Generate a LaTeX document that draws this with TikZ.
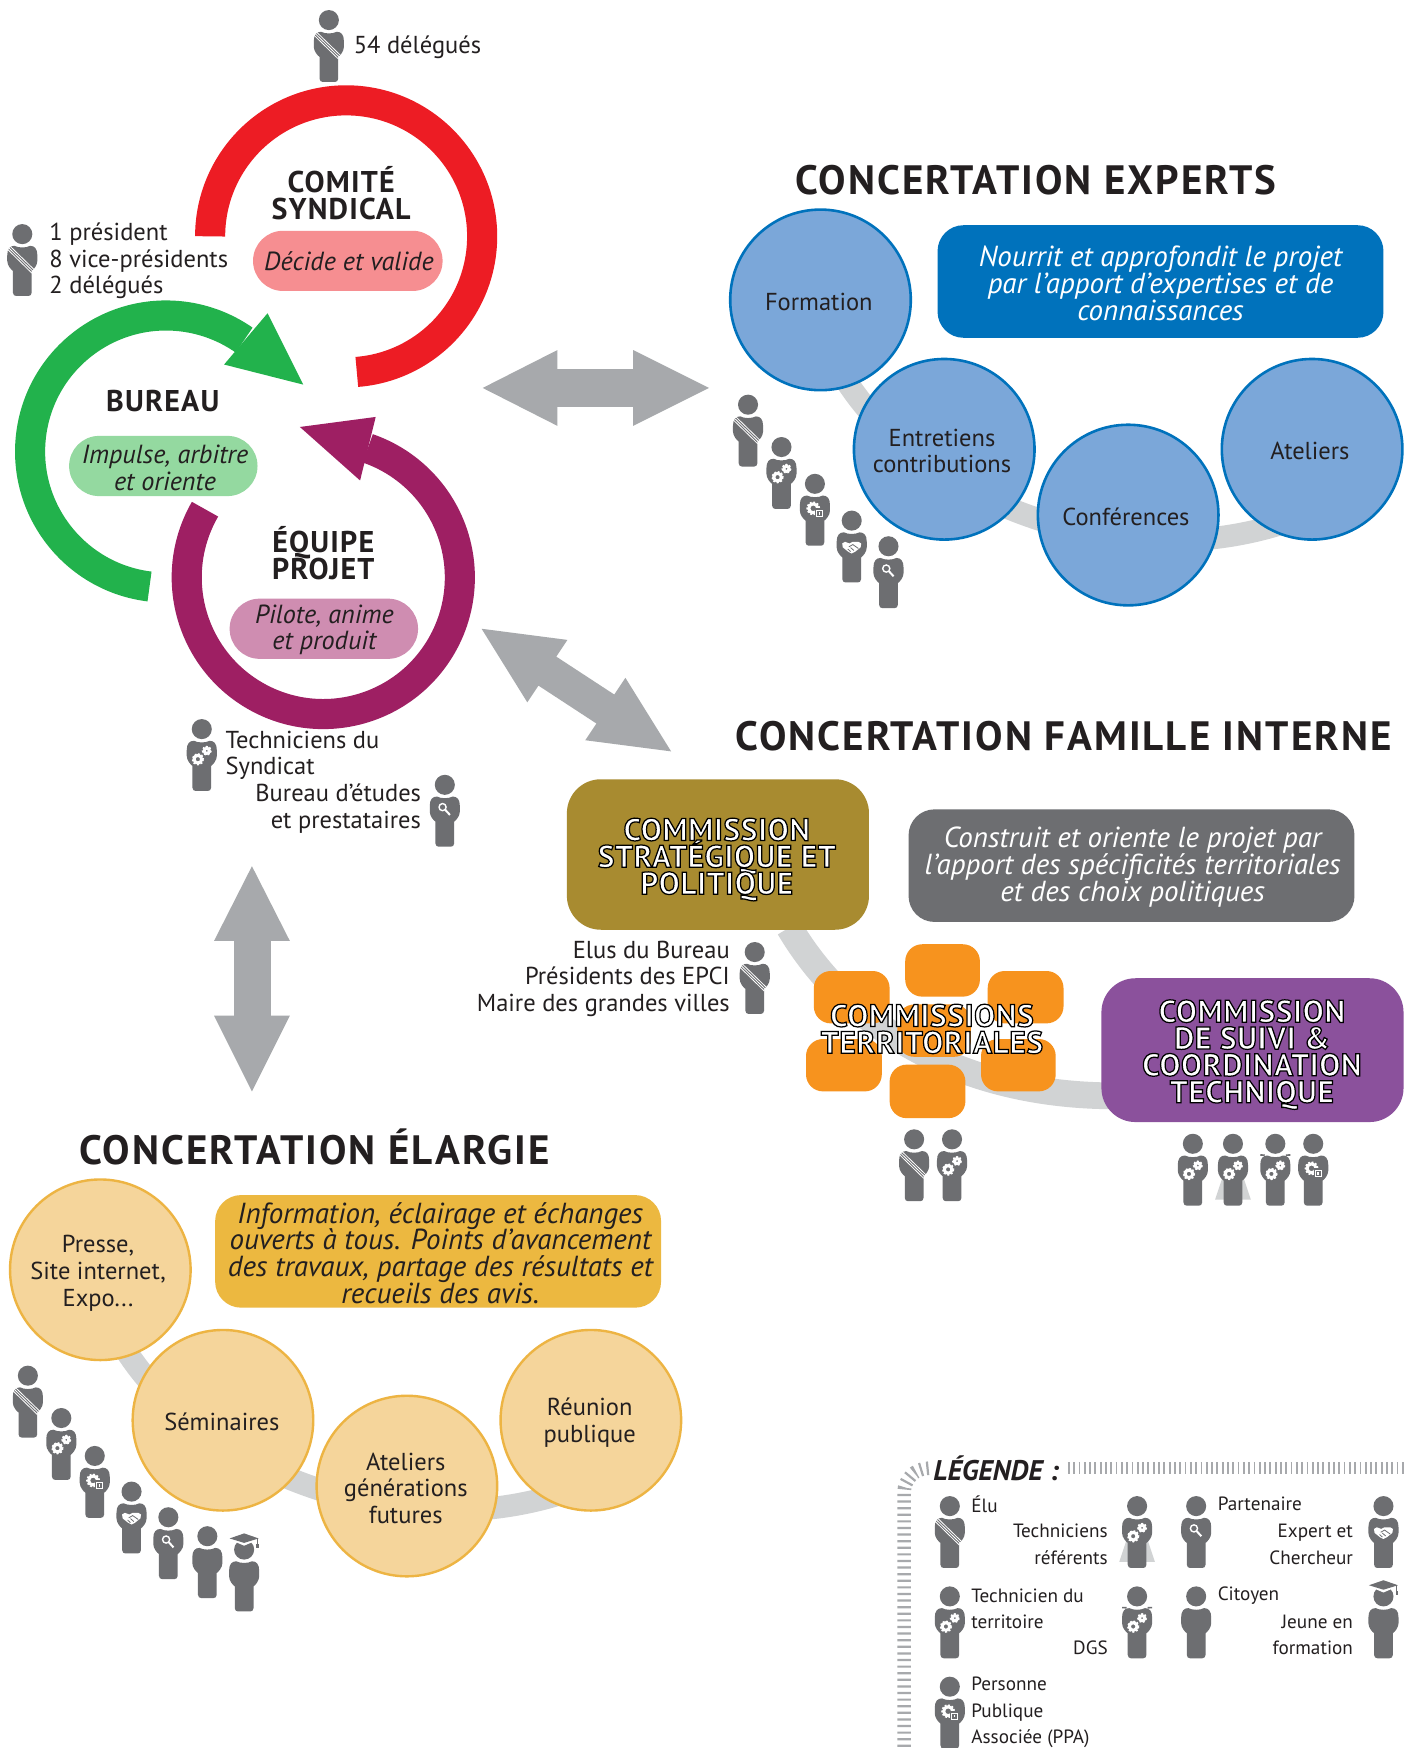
\documentclass[tikz,border=0pt]{standalone}
\usepackage{fontspec}
\setmainfont{PT Sans}
\usetikzlibrary{calc}
\definecolor{ink}{HTML}{231F20}
\definecolor{gris}{HTML}{6D6E71}
\definecolor{flech}{HTML}{A7A9AC}
\definecolor{bande}{HTML}{D1D3D4}
\definecolor{rouge}{HTML}{ED1C24}
\definecolor{vert}{HTML}{22B24C}
\definecolor{pourpre}{HTML}{9E1F63}
\definecolor{bleuC}{HTML}{7BA7D9}
\definecolor{bleuT}{HTML}{0072BC}
\definecolor{jauneC}{HTML}{F5D59B}
\definecolor{jauneT}{HTML}{EDB443}
\definecolor{orange}{HTML}{F7931E}
\definecolor{rosec}{HTML}{F68E91}
\definecolor{vertc}{HTML}{94D9A0}
\definecolor{mauvec}{HTML}{CF8DB1}
\definecolor{or}{HTML}{A88B30}
\definecolor{violet}{HTML}{8B519C}
\definecolor{jauneB}{HTML}{ECB840}
\newcommand\fs[1]{\fontsize{#1}{13.4}\selectfont\lineskiplimit=-30pt\lineskip=0pt }
\tikzset{
 x=0.5573pt,y=-0.5573pt,
 txt/.style={text=ink,inner sep=0pt,font=\fs{12.25},align=center,yshift=-0.6pt},
 tleft/.style={txt,align=left,anchor=west},
 tright/.style={txt,align=right,anchor=east},
 leg/.style={font=\fs{9.6}},
 titre/.style={text=ink,inner sep=0pt,font=\fs{20.5}\bfseries\addfontfeature{LetterSpace=5},anchor=center},
 sous/.style={text=ink,inner sep=0pt,font=\fs{15}\bfseries\addfontfeature{LetterSpace=4},align=center},
 outs/.style={text=white,inner sep=0pt,font=\fs{15.7}\bfseries\addfontfeature{LetterSpace=2},align=center},
 role/.style={inner sep=0pt,rounded corners=15pt,draw=none},
 rond/.style={circle,minimum size=162*0.5573pt,inner sep=0pt,align=center,text=ink,font=\fs{12.25}},
 bleu/.style={rond,fill=bleuC,draw=bleuT,line width=1.3pt},
 jaune/.style={rond,fill=jauneC,draw=jauneT,line width=1.2pt},
 boite/.style={inner sep=0pt,align=center,font=\fs{14.5}\itshape},
 pill/.style={inner sep=0pt,align=center,text=ink,font=\fs{13.1}\itshape},
 anneau/.style={line width=27*0.5573pt},
 ruban/.style={draw=bande,line width=20*0.5573pt},
 flechef/.style={fill=flech},
 corps/.style={fill=gris},
 orng/.style={fill=orange,rounded corners=8.5pt},
}
\newcommand\outl[1]{\special{pdf:code 2 Tr 0.62 w 0 0 0 RG}#1\special{pdf:code 0 Tr 1 w}}
\newcommand\persona[3]{\begin{scope}[shift={(#1,#2)}]#3\end{scope}}
\newcommand\corpsbase{%
 \fill[corps] (0,9) circle (9);
 \fill[corps] (-7,19.5) .. controls (-11,19.5) and (-13.5,22) .. (-13.5,28) -- (-13.5,33)
  .. controls (-13.5,37) and (-10,41) .. (-8.4,42) -- (-8.4,61.5) .. controls (-8.4,63.5) and (-7,64.5) .. (-5.5,64.5)
  -- (5.5,64.5) .. controls (7,64.5) and (8.4,63.5) .. (8.4,61.5) -- (8.4,42) .. controls (10,41) and (13.5,37) .. (13.5,33)
  -- (13.5,28) .. controls (13.5,22) and (11,19.5) .. (7,19.5) .. controls (3.5,21.5) and (-3.5,21.5) .. (-7,19.5) -- cycle;}
\newcommand\pelu{\corpsbase
 \draw[white,line width=0.4pt] (-13.4,22.5)--(8.6,44) (-12.2,21.2)--(10,42.8) (-10.8,20)--(11.4,41.6);}
\newcommand\engr[3]{\draw[white,line width=1.1pt,dash pattern=on 0.9pt off 0.8pt] (#1,#2) circle (#3);
 \draw[white,line width=1.5pt] (#1,#2) circle (#3-1.2);}
\newcommand\pgear{\corpsbase\engr{-3.5}{36}{4.6}\engr{4.5}{28.5}{3.5}}
\newcommand\pppa{\corpsbase\engr{-1.5}{31}{5.2}
 \fill[gris] (0.5,31) rectangle (8,39);\draw[white,line width=0.4pt] (1.5,32.5) rectangle (7,38);
 \fill[white] (3.4,34) rectangle (5,36.6);}
\newcommand\pmain{\corpsbase
 \fill[white] (-8.5,29.5)--(-6,28)--(-2,29.5)--(1,28)--(6,28)--(8.5,29.5)--(8,33)--(3,37)--(0,38.5)--(-3,37)--(-8,33)--cycle;
 \draw[gris,line width=0.4pt] (-2.5,32.5)--(1,30.5)--(6,34) (-3.5,34.5)--(-1,36.8) (-1,33.2)--(2,35.8);}
\newcommand\pmag{\corpsbase
 \draw[white,line width=0.7pt] (-2,29) circle (3.2);
 \draw[white,line width=1pt] (0.4,31.4)--(4.6,36);}
\newcommand\pcit{\corpsbase}
\newcommand\pgrad{\corpsbase
 \fill[white] (-14,-0.5)--(0,-6)--(14,-0.5)--(0,5.5)--cycle;
 \fill[gris] (-13,-1)--(0,-5.5)--(13,-1)--(0,3)--cycle;
 \draw[gris,line width=0.6pt] (12,-1)--(12,6);\fill[gris] (11,4) rectangle (13,8);}
\newcommand\pref{\fill[bande] (-9,38)--(9,38)--(16,59)--(-16,59)--cycle;\pgear}
\newcommand\pdgs{\pgear\draw[gris,line width=0.8pt] (-13.5,19)--(-9.5,19.2) (13.5,19)--(9.5,19.2);}
\begin{document}
\begin{tikzpicture}
\useasboundingbox (0,0) rectangle (1265,1568);
\fill[white] (0,0) rectangle (1265,1568);

% Rings
\draw[rouge,anneau] (310.5,212) ++(180:122) arc (180:445.5:122);
\draw[vert,anneau] (149,405) ++(97:122) arc (97:305:122);
\fill[vert] (240,281)--(272,345)--(201,327)--cycle;
\draw[pourpre,anneau] (290,518) ++(210:122.5) arc (210:-71:122.5);
\fill[pourpre] (337,374)--(269,383)--(323,431)--cycle;

% Double arrows
\fill[flechef] (433,348)--(500,314)--(500,331)--(568,331)--(568,314)--(636,348)--(568,382)--(568,365)--(500,365)--(500,382)--cycle;
\fill[flechef] (432,564)--(509,574)--(499,589)--(551,623)--(561,608)--(602,674)--(525,664)--(535,649)--(483,615)--(473,630)--cycle;
\fill[flechef] (226,777)--(260,844)--(243,844)--(243,911)--(260,911)--(226,979)--(192,911)--(210,911)--(210,844)--(192,844)--cycle;

% Left text
\persona{295}{9}{\pelu}
\node[tleft] (t54) at (317,41) {54 délégués};
\persona{20}{201}{\pelu}
\node[tleft] (tpres) at (44,233) {1 président\\8 vice-présidents\\2 délégués};
\node[sous] (tcs) at (306,173) {COMITÉ\\SYNDICAL};
\node[role,minimum width=170*0.5573pt,minimum height=54*0.5573pt,fill=rosec] (bcs) at (312,234) {};
\node[pill] (tbcs) at (313,234) {Décide et valide};
\node[sous] (tbur) at (146,360) {BUREAU};
\node[role,minimum width=169*0.5573pt,minimum height=54*0.5573pt,fill=vertc] (bbur) at (146.5,418) {};
\node[pill] (tbbur) at (148,419.5) {Impulse, arbitre\\et oriente};
\node[sous] (tep) at (290,496) {ÉQUIPE\\PROJET};
\node[role,minimum width=169*0.5573pt,minimum height=54*0.5573pt,fill=mauvec] (bep) at (290.5,564) {};
\node[pill] (tbep) at (291,565) {Pilote, anime\\et produit};
\persona{181}{645}{\pgear}
\node[tleft] (ttech) at (202,676.5) {Techniciens du\\Syndicat};
\node[tright] (tbe) at (378,724) {Bureau d’études\\et prestataires};
\persona{399}{695}{\pmag}

% Experts
\node[titre] (tex) at (929,162) {CONCERTATION EXPERTS};
\draw[ruban] (755,335) .. controls (820,445) and (1000,520) .. (1155,468);
\node[bleu] (cf) at (736,269) {};
\node[bleu] (ce) at (847,403) {};
\node[bleu] (cc) at (1012,462) {};
\node[bleu] (ca) at (1177,403) {};
\node[txt] (tcf) at (734.5,269.5) {Formation};
\node[txt] (tce) at (845,403.5) {Entretiens\\contributions};
\node[txt] (tcc) at (1010,462.5) {Conférences};
\node[txt] (tca) at (1175,403.5) {Ateliers};
\node[fill=bleuT,rounded corners=13pt,minimum width=400*0.5573pt,minimum height=101*0.5573pt,inner sep=0pt] (bex) at (1041,252.5) {};
\node[boite,text=white] (tbex) at (1041,254) {Nourrit et approfondit le projet\\par l’apport d’expertises et de\\connaissances};
\persona{671}{354}{\pelu}
\persona{701}{392}{\pgear}
\persona{731}{425}{\pppa}
\persona{764}{458}{\pmain}
\persona{797}{481}{\pmag}

% Famille interne
\node[titre] (tfa) at (954,660) {CONCERTATION FAMILLE INTERNE};
\draw[ruban,line width=24*0.5573pt] (708,832) .. controls (760,920) and (860,983) .. (1000,983);
\node[fill=or,rounded corners=17pt,minimum width=271*0.5573pt,minimum height=135*0.5573pt,inner sep=0pt] (bcsp) at (644,766.5) {};
\node[outs] (tcsp) at (643,771) {\outl{COMMISSION}\\\outl{STRATÉGIQUE ET}\\\outl{POLITIQUE}};
\node[fill=gris,rounded corners=13pt,minimum width=400*0.5573pt,minimum height=101*0.5573pt,inner sep=0pt] (bfa) at (1015,776.5) {};
\node[boite,text=white] (tbfa) at (1016,778) {Construit et oriente le projet par\\l’apport des spécificités territoriales\\et des choix politiques};
\node[tright] (telus) at (655,877) {Elus du Bureau\\Présidents des EPCI\\Maire des grandes villes};
\persona{677}{845}{\pelu}
\fill[orng] (812,847) rectangle (879,894);
\fill[orng] (730,871) rectangle (798,918);
\fill[orng] (886,871) rectangle (954,918);
\fill[orng] (805,901) rectangle (871,948);
\fill[orng] (723,932) rectangle (791,979);
\fill[orng] (880,932) rectangle (947,979);
\fill[orng] (798,955) rectangle (866,1003);
\node[outs] (tct) at (836,923) {\outl{COMMISSIONS}\\\outl{TERRITORIALES}};
\node[fill=violet,rounded corners=17pt,minimum width=271*0.5573pt,minimum height=129*0.5573pt,inner sep=0pt] (bsc) at (1123.5,942) {};
\node[outs] (tsc) at (1123,946) {\outl{COMMISSION}\\\outl{DE SUIVI \&}\\\outl{COORDINATION}\\\outl{TECHNIQUE}};
\persona{820}{1013}{\pelu}
\persona{854}{1013}{\pgear}
\persona{1070}{1017}{\pgear}
\persona{1106}{1017}{\pref}
\persona{1144}{1017}{\pdgs}
\persona{1178}{1017}{\pppa}

% Elargie
\node[titre] (tel) at (282,1029) {CONCERTATION ÉLARGIE};
\draw[ruban] (109,1205) .. controls (174,1315) and (354,1390) .. (509,1338);
\node[jaune] (jp) at (90,1139) {};
\node[jaune] (js) at (200,1274) {};
\node[jaune] (ja) at (365,1333) {};
\node[jaune] (jr) at (530,1274) {};
\node[txt] (tjp) at (88,1141) {Presse,\\Site internet,\\Expo...};
\node[txt] (tjs) at (199,1274.5) {Séminaires};
\node[txt] (tja) at (364,1334) {Ateliers\\générations\\futures};
\node[txt] (tjr) at (529,1275) {Réunion\\publique};
\node[fill=jauneB,rounded corners=13pt,minimum width=400*0.5573pt,minimum height=101*0.5573pt,inner sep=0pt] (bel) at (393,1122.5) {};
\node[boite,text=ink] (tbel) at (395,1124) {Information, éclairage et échanges\\ouverts à tous. Points d’avancement\\des travaux, partage des résultats et\\recueils des avis.};
\persona{25}{1225}{\pelu}
\persona{55}{1263}{\pgear}
\persona{85}{1297}{\pppa}
\persona{118}{1329}{\pmain}
\persona{151}{1352}{\pmag}
\persona{186}{1369}{\pcit}
\persona{219}{1381}{\pgrad}

% Legend
\node[anchor=west,text=ink,inner sep=0pt,font=\fs{14.2}\bfseries\itshape] (tleg) at (837,1317) {LÉGENDE :};
\draw[flech,line width=6.2pt,dash pattern=on 0.9pt off 1.75pt] (958,1317)--(1260,1317);
\draw[flech,line width=6.8pt,dash pattern=on 1.1pt off 2.2pt] (833,1317) arc (270:180:22) -- (811,1568);
\persona{852}{1342}{\pelu}
\node[tleft,leg] (l1) at (871,1348) {Élu};
\node[tright,leg] (l2) at (994,1384) {Techniciens\\référents};
\persona{1020}{1342}{\pref}
\persona{1073}{1342}{\pmag}
\node[tleft,leg] (l3) at (1092,1348) {Partenaire};
\node[tright,leg] (l4) at (1214,1384) {Expert et\\Chercheur};
\persona{1241}{1342}{\pmain}
\persona{852}{1423}{\pgear}
\node[tleft,leg] (l5) at (871,1442) {Technicien du\\territoire};
\node[tright,leg] (l6) at (994,1477) {DGS};
\persona{1020}{1423}{\pdgs}
\persona{1073}{1423}{\pcit}
\node[tleft,leg] (l7) at (1092,1430) {Citoyen};
\node[tright,leg] (l8) at (1214,1465.5) {Jeune en\\formation};
\persona{1241}{1423}{\pgrad}
\persona{852}{1504}{\pppa}
\node[tleft,leg] (l9) at (871,1535) {Personne\\Publique\\Associée (PPA)};
\end{tikzpicture}
\end{document}
